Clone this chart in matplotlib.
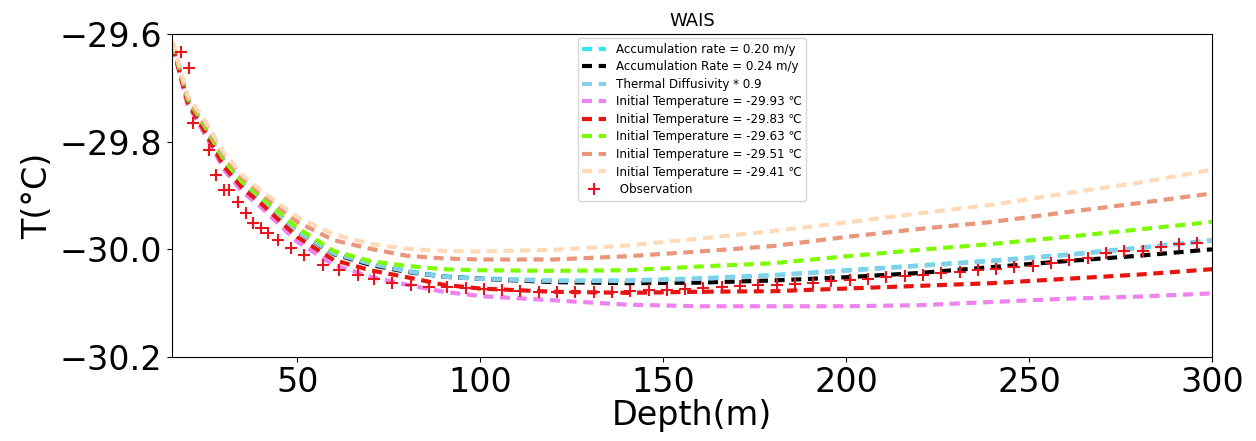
import numpy as np
import matplotlib
matplotlib.use("Agg")
import matplotlib.pyplot as plt

# model depth grid (m)
depth = [16, 20, 25, 30, 35, 40, 50, 60, 70, 80, 90, 100,
         120, 140, 160, 180, 200, 220, 240, 260, 280, 300]

# modelled firn temperatures (degC)
acc_020 = [-29.620, -29.722, -29.778, -29.838, -29.879, -29.905, -29.966, -30.007,
           -30.026, -30.040, -30.050, -30.054, -30.058, -30.058, -30.054, -30.048,
           -30.039, -30.030, -30.021, -30.010, -29.997, -29.983]
acc_024 = [-29.620, -29.722, -29.778, -29.838, -29.879, -29.905, -29.967, -30.009,
           -30.029, -30.042, -30.051, -30.055, -30.061, -30.063, -30.062, -30.058,
           -30.052, -30.044, -30.033, -30.022, -30.012, -30.000]
diff_09 = [-29.620, -29.722, -29.778, -29.838, -29.879, -29.906, -29.967, -30.008,
           -30.027, -30.041, -30.051, -30.055, -30.059, -30.059, -30.055, -30.049,
           -30.040, -30.031, -30.022, -30.011, -29.998, -29.984]
t_2993 = [-29.624, -29.730, -29.789, -29.852, -29.893, -29.921, -29.986, -30.029,
          -30.051, -30.066, -30.079, -30.087, -30.095, -30.103, -30.106, -30.106,
          -30.106, -30.104, -30.098, -30.092, -30.088, -30.082]
t_2983 = [-29.622, -29.726, -29.784, -29.846, -29.886, -29.914, -29.977, -30.020,
          -30.039, -30.052, -30.066, -30.073, -30.079, -30.081, -30.079, -30.078,
          -30.073, -30.068, -30.063, -30.055, -30.047, -30.037]
t_2963 = [-29.618, -29.720, -29.774, -29.834, -29.875, -29.902, -29.960, -30.003,
          -30.022, -30.031, -30.037, -30.039, -30.040, -30.039, -30.032, -30.026,
          -30.013, -30.001, -29.990, -29.977, -29.963, -29.949]
t_2951 = [-29.616, -29.717, -29.769, -29.826, -29.867, -29.895, -29.949, -29.983,
          -29.999, -30.012, -30.017, -30.019, -30.019, -30.013, -30.004, -29.994,
          -29.977, -29.962, -29.949, -29.931, -29.914, -29.896]
t_2941 = [-29.614, -29.713, -29.763, -29.821, -29.862, -29.890, -29.940, -29.972,
          -29.990, -29.999, -30.003, -30.004, -30.001, -29.993, -29.980, -29.966,
          -29.950, -29.933, -29.917, -29.896, -29.876, -29.852]

# borehole observations
obs_depth = [18.2, 20.4, 21.5, 25.8, 27.7, 29.9, 31.3, 33.8, 35.9, 37.9, 40, 42,
             44.7, 48.2, 51.8, 57, 61.4, 66.5, 71, 76, 81, 86, 91, 96, 101, 106,
             111, 116, 121, 126, 131, 136, 141, 146, 151, 156, 161, 166, 171, 176,
             181, 186, 191, 196, 201, 206, 211, 216, 221, 226, 231, 236, 241, 246,
             251, 256, 261, 266, 271, 276, 281, 286, 291, 296]
obs_temp = [-29.633, -29.663, -29.765, -29.815, -29.862, -29.890, -29.890, -29.912,
            -29.932, -29.951, -29.960, -29.970, -29.983, -29.998, -30.011, -30.029,
            -30.038, -30.048, -30.055, -30.063, -30.066, -30.070, -30.070, -30.072,
            -30.074, -30.076, -30.078, -30.079, -30.079, -30.079, -30.079, -30.079,
            -30.078, -30.076, -30.075, -30.074, -30.072, -30.070, -30.068, -30.067,
            -30.066, -30.065, -30.062, -30.059, -30.057, -30.055, -30.052, -30.050,
            -30.048, -30.045, -30.042, -30.039, -30.036, -30.032, -30.031, -30.026,
            -30.020, -30.017, -30.007, -30.004, -30.003, -29.995, -29.991, -29.989]

fig = plt.figure(figsize=(12.56, 4.41), dpi=100)
ax = fig.add_axes([0.137, 0.191, 0.828, 0.731])

ls = (0, (2.4, 1.6))
lw = 3
ax.plot(depth, acc_020, color='#33e6f0', ls=ls, lw=lw, label='Accumulation rate = 0.20 m/y')
ax.plot(depth, acc_024, color='black', ls=ls, lw=lw, label='Accumulation Rate = 0.24 m/y')
ax.plot(depth, diff_09, color='skyblue', ls=ls, lw=lw, label='Thermal Diffusivity * 0.9')
ax.plot(depth, t_2993, color='violet', ls=ls, lw=lw, label='Initial Temperature = -29.93 \u2103')
ax.plot(depth, t_2983, color='#e8140e', ls=ls, lw=lw, label='Initial Temperature = -29.83 \u2103')
ax.plot(depth, t_2963, color='lawngreen', ls=ls, lw=lw, label='Initial Temperature = -29.63 \u2103')
ax.plot(depth, t_2951, color='darksalmon', ls=ls, lw=lw, label='Initial Temperature = -29.51 \u2103')
ax.plot(depth, t_2941, color='peachpuff', ls=ls, lw=lw, label='Initial Temperature = -29.41 \u2103')
ax.plot(obs_depth, obs_temp, '+', color='#e8141e', ms=9, mew=1.5, label=' Observation')

ax.set_xlim(15.8, 300)
ax.set_ylim(-30.2, -29.6)
ax.set_yticks([-30.2, -30.0, -29.8, -29.6])
ax.set_xticks([50, 100, 150, 200, 250, 300])
ax.tick_params(labelsize=24)
ax.set_xlabel('Depth(m)', fontsize=24, labelpad=0)
ax.set_ylabel('T(\u00b0C)', fontsize=24)
ax.set_title('WAIS', fontsize=13)
ax.legend(loc='upper center', fontsize=8.6, labelspacing=0.38, borderaxespad=0.3)

fig.savefig('out.png', dpi=100)
